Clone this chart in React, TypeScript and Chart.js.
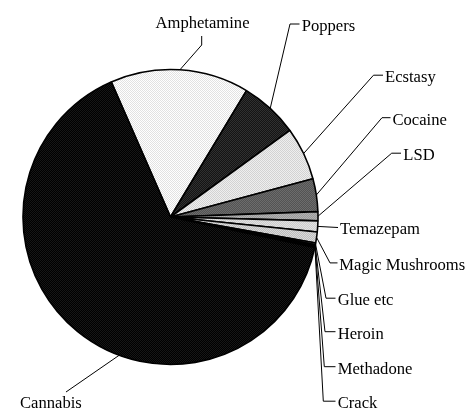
import { useEffect, useRef } from "react";
import { Chart, ArcElement, PieController } from "chart.js";

Chart.register(ArcElement, PieController);

// Share of reported use by drug (percent), listed clockwise from Amphetamine.
const categories = [
  "Amphetamine",
  "Poppers",
  "Ecstasy",
  "Cocaine",
  "LSD",
  "Temazepam",
  "Magic Mushrooms",
  "Glue etc",
  "Heroin",
  "Methadone",
  "Crack",
  "Cannabis",
];
const shares = [15.2, 6.4, 5.8, 3.6, 1.0, 1.2, 1.2, 0.2, 0.1, 0.1, 0.1, 65.1];

// Two-tone stipple fills (base pixel, alternate pixel) per slice.
const tones: [string, string][] = [
  ["#ffffff", "#e2e2e2"],
  ["#141414", "#303030"],
  ["#eeeeee", "#d2d2d2"],
  ["#535353", "#6c6c6c"],
  ["#999999", "#b2b2b2"],
  ["#cccccc", "#e2e2e2"],
  ["#bdbdbd", "#dadada"],
  ["#8a8a8a", "#a0a0a0"],
  ["#cfcfcf", "#e6e6e6"],
  ["#444444", "#5a5a5a"],
  ["#ececec", "#ffffff"],
  ["#000000", "#161616"],
];

const FONT = '16.6px "Liberation Serif", "Times New Roman", serif';

type LabelSpot = {
  text: [number, number];
  align: CanvasTextAlign;
  leader: [number, number][];
  anchorAt?: number;
};

// Where each caption sits and the bends of its leader line; the line ends on the slice's rim.
const labelSpots: LabelSpot[] = [
  { text: [202.5, 27.7], align: "center", leader: [[201.7, 36], [201.7, 45]] },
  { text: [301.7, 30.7], align: "left", leader: [[299.5, 24], [290, 24]] },
  { text: [385, 82], align: "left", leader: [[383, 75.2], [373.5, 75.2]] },
  { text: [392.5, 124.5], align: "left", leader: [[390.5, 117.7], [382, 117.7]] },
  { text: [403.3, 160], align: "left", leader: [[401, 153.2], [391.7, 153.2]] },
  { text: [340, 234.3], align: "left", leader: [[338, 227.5]] },
  { text: [339.3, 269.7], align: "left", leader: [[337.5, 262.9], [330, 262.9]] },
  { text: [337.7, 305], align: "left", leader: [[335.5, 298.2], [326, 298.2]] },
  { text: [337.7, 338.5], align: "left", leader: [[335.5, 331.7], [325, 331.7]] },
  { text: [337.7, 373.5], align: "left", leader: [[335.5, 366.7], [324.3, 366.7]] },
  { text: [337.7, 408], align: "left", leader: [[335.5, 401.2], [323.3, 401.2]] },
  { text: [20, 408], align: "left", leader: [[66, 392]], anchorAt: 0.42 },
];

function stipple(base: string, alt: string): CanvasPattern | string {
  const c = document.createElement("canvas");
  c.width = 2;
  c.height = 2;
  const g = c.getContext("2d");
  if (!g) return base;
  g.fillStyle = base;
  g.fillRect(0, 0, 2, 2);
  g.fillStyle = alt;
  g.fillRect(0, 0, 1, 1);
  g.fillRect(1, 1, 1, 1);
  const p = g.createPattern(c, "repeat");
  return p ?? base;
}

const leaderPlugin = {
  id: "leaderLabels",
  afterDatasetsDraw(chart: any) {
    const ctx: CanvasRenderingContext2D = chart.ctx;
    const arcs = chart.getDatasetMeta(0).data;
    ctx.save();
    ctx.strokeStyle = "#000";
    ctx.lineWidth = 1;
    ctx.fillStyle = "#000";
    ctx.font = FONT;
    ctx.textBaseline = "alphabetic";
    categories.forEach((name, i) => {
      const spot = labelSpots[i];
      const { x, y, startAngle, endAngle, outerRadius } = arcs[i].getProps(
        ["x", "y", "startAngle", "endAngle", "outerRadius"],
        true
      );
      const a = startAngle + (endAngle - startAngle) * (spot.anchorAt ?? 0.5);
      const ax = x + Math.cos(a) * outerRadius;
      const ay = y + Math.sin(a) * outerRadius;
      ctx.beginPath();
      spot.leader.forEach(([px, py], k) => (k ? ctx.lineTo(px, py) : ctx.moveTo(px, py)));
      ctx.lineTo(ax, ay);
      ctx.stroke();
      ctx.textAlign = spot.align;
      ctx.fillText(name, spot.text[0], spot.text[1]);
    });
    ctx.restore();
  },
};

export default function App() {
  const ref = useRef<HTMLCanvasElement | null>(null);

  useEffect(() => {
    document.body.style.margin = "0";
    const canvas = ref.current;
    if (!canvas) return;
    const chart = new Chart(canvas, {
      type: "pie",
      data: {
        labels: categories,
        datasets: [
          {
            data: shares,
            backgroundColor: tones.map(([b, a]) => stipple(b, a)) as any,
            borderColor: "#000",
            borderWidth: 1.6,
          },
        ],
      },
      options: {
        responsive: false,
        devicePixelRatio: 1,
        animation: false,
        rotation: -23.7,
        radius: 147.5,
        layout: { padding: { left: 20, right: 145, top: 69.5, bottom: 45.5 } },
        plugins: { legend: { display: false }, tooltip: { enabled: false } },
        events: [],
      },
      plugins: [leaderPlugin],
    });
    return () => chart.destroy();
  }, []);

  return (
    <div style={{ position: "fixed", left: 0, top: 0, width: 466, height: 410, background: "#fff" }}>
      <canvas ref={ref} width={466} height={410} />
    </div>
  );
}
